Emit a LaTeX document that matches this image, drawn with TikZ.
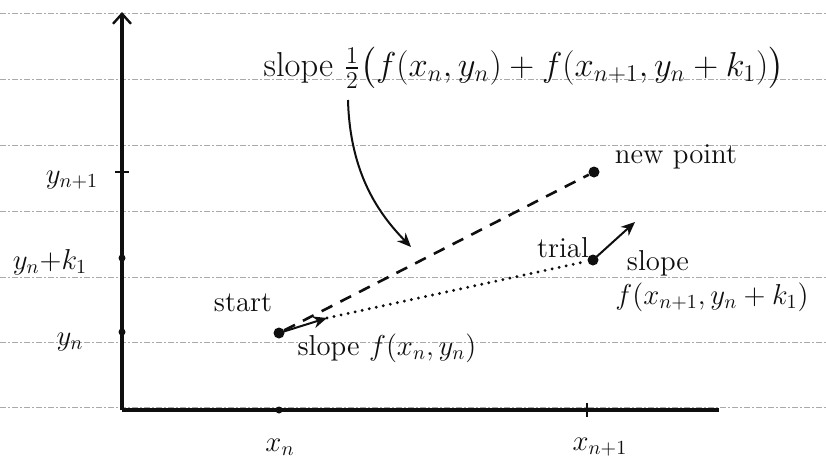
\documentclass[tikz,border=0pt]{standalone}
\usepackage{amsmath}
\usetikzlibrary{arrows.meta, positioning}
\definecolor{ink}{RGB}{15,15,15}
\definecolor{ruling}{RGB}{170,170,170}
\tikzset{
  axis/.style={line width=1.6pt, color=ink},
  ruleline/.style={ruling, line width=0.35pt, dash pattern=on 3pt off 1pt on 1pt off 1pt},
  pointdot/.style={circle, fill=ink, inner sep=0pt, minimum size=5.5pt},
  tickdot/.style={circle, fill=ink, inner sep=0pt, minimum size=3.5pt},
  txt/.style={font=\Large, text=ink, inner sep=1pt},
  arrow/.style={-{Stealth[length=7pt,width=6pt]}, line width=1pt, color=ink},
  dashline/.style={line width=1.3pt, color=ink, dash pattern=on 6pt off 4.5pt},
  dotline/.style={line width=1.6pt, color=ink, dash pattern=on 0pt off 3.6pt, line cap=round}
}

\begin{document}
\begin{tikzpicture}[x=0.5pt, y=-0.5pt]
  \fill[white] (0,0) rectangle (826,467);
  \useasboundingbox (0,0) rectangle (826,467);

  % ruled paper
  \foreach \y in {13,79,145,211,277,342,407}
    \draw[ruleline] (0,\y) -- (826,\y);

  % axes
  \coordinate (O) at (122,410);
  \coordinate (yend) at (122,12);
  \coordinate (xend) at (719,410);
  \draw[axis, -{Straight Barb[length=5pt, width=9pt, line width=1.2pt]}] (O) -- (yend);
  \draw[axis] (O) -- (xend);

  % ticks
  \draw[axis, line width=1.1pt] (115,172) -- (129,172);
  \node[tickdot] (tyk) at (122,258) {};
  \node[tickdot] (tyn) at (122,332) {};
  \node[tickdot] (txn) at (279,410) {};
  \draw[axis, line width=1.1pt] (587,403) -- (587,417);

  % axis labels
  \node[txt] (ly1) at (72,180) {$y_{n+1}$};
  \node[txt] (lyk) at (50,262) {$y_n{+}k_1$};
  \node[txt] (lyn) at (70,342) {$y_n$};
  \node[txt] (lxn) at (280,447) {$x_n$};
  \node[txt] (lx1) at (600,447) {$x_{n+1}$};

  % points
  \node[pointdot] (start) at (279,333) {};
  \node[pointdot] (trial) at (593,260) {};
  \node[pointdot] (newpt) at (594,172) {};
  \coordinate (sltip) at (327,318);
  \coordinate (trtip) at (635,222);

  % steps
  \draw[dashline] (start) -- (newpt);
  \draw[dotline] (sltip) -- (trial);
  \draw[arrow] (start.center) -- (sltip);
  \draw[arrow] (trial.center) -- (trtip);

  % texts
  \node[txt] (lstart) at (243,303) {start};
  \node[txt] (lslope) at (387,348) {slope $f(x_n,y_n)$};
  \node[txt] (ltrial) at (563,248) {trial};
  \node[txt] (lslope2) at (658,263) {slope};
  \node[txt] (lf2) at (712,297) {$f(x_{n+1},y_n+k_1)$};
  \node[txt] (lnew) at (676,157) {new point};
  \node[txt, font=\LARGE] (lavg) at (524,68) {slope $\tfrac{1}{2}\bigl(f(x_n,y_n)+f(x_{n+1},y_n+k_1)\bigr)$};

  % pointer to the averaged slope
  \coordinate (cfrom) at (348,100);
  \coordinate (cto) at (411,247);
  \draw[arrow] (cfrom) .. controls (350,175) and (380,215) .. (cto);
\end{tikzpicture}
\end{document}
